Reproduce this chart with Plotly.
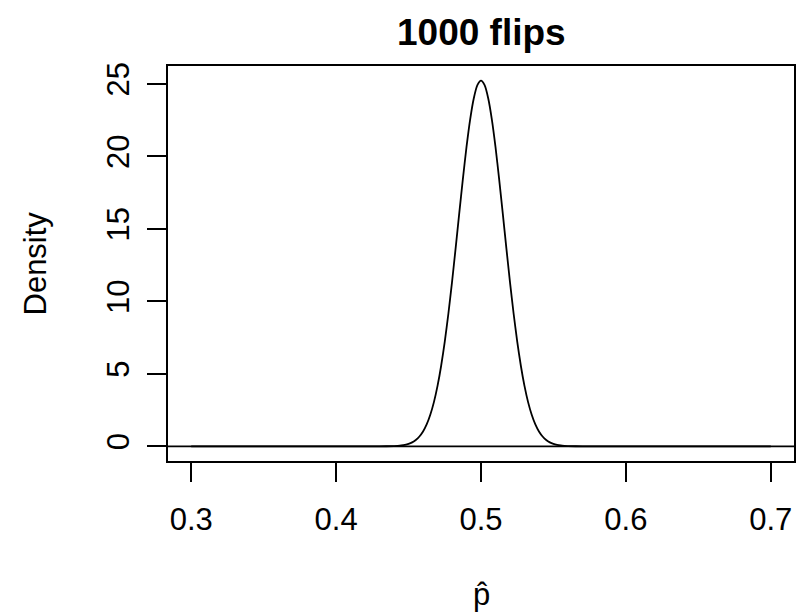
import plotly.graph_objects as go

# Density curve of p-hat for 1000 flips
p_hat = [0.30, 0.40, 0.43, 0.44, 0.4425, 0.445, 0.4475, 0.45, 0.4525, 0.455, 0.4575,
         0.46, 0.4625, 0.465, 0.4675, 0.47, 0.4725, 0.475, 0.4775, 0.48, 0.4825,
         0.485, 0.4875, 0.49, 0.4925, 0.495, 0.4975, 0.50,
         0.5025, 0.505, 0.5075, 0.51, 0.5125, 0.515, 0.5175, 0.52, 0.5225, 0.525,
         0.5275, 0.53, 0.5325, 0.535, 0.5375, 0.54, 0.5425, 0.545, 0.5475, 0.55,
         0.5525, 0.555, 0.5575, 0.56, 0.57, 0.60, 0.70]
density = [0.0, 0.0, 0.001, 0.019, 0.034, 0.059, 0.102, 0.170, 0.277, 0.440, 0.681,
           1.028, 1.515, 2.177, 3.052, 4.171, 5.561, 7.228, 9.166, 11.336, 13.675,
           16.087, 18.458, 20.656, 22.546, 23.999, 24.916, 25.23,
           24.916, 23.999, 22.546, 20.656, 18.458, 16.087, 13.675, 11.336, 9.166, 7.228,
           5.561, 4.171, 3.052, 2.177, 1.515, 1.028, 0.681, 0.440, 0.277, 0.170,
           0.102, 0.059, 0.034, 0.019, 0.001, 0.0, 0.0]

x_ticks = [0.3, 0.4, 0.5, 0.6, 0.7]
x_tick_labels = ["0.3", "0.4", "0.5", "0.6", "0.7"]
y_ticks = [0, 5, 10, 15, 20, 25]
y_tick_labels = ["0", "5", "10", "15", "20", "25"]

FONT = "Liberation Sans, Arial, Helvetica, sans-serif"

fig = go.Figure()
fig.add_trace(go.Scatter(x=p_hat, y=density, mode="lines",
                         line=dict(color="black", width=1.8, shape="spline", smoothing=0.6),
                         showlegend=False, hoverinfo="skip"))

fig.update_layout(
    width=808, height=613,
    margin=dict(l=168, r=14, t=66, b=152),
    paper_bgcolor="white", plot_bgcolor="white",
    font=dict(family=FONT, size=31, color="black"),
    xaxis=dict(range=[0.284, 0.716], tickvals=x_ticks, ticktext=x_tick_labels,
               showgrid=False, zeroline=False, showline=True, mirror=True,
               linecolor="black", linewidth=1.8, ticks="outside", ticklen=19,
               tickwidth=1.8, tickcolor="black", ticklabelstandoff=11),
    yaxis=dict(range=[-1.01, 26.24], tickvals=y_ticks, ticktext=y_tick_labels,
               showgrid=False, zeroline=False, showline=True, mirror=True,
               linecolor="black", linewidth=1.8, ticks="outside", ticklen=19,
               tickwidth=1.8, tickcolor="black", tickangle=-90, ticklabelstandoff=6),
    shapes=[dict(type="line", xref="paper", yref="y", x0=0, x1=1, y0=0, y1=0,
                 line=dict(color="black", width=1.8))],
    annotations=[
        dict(text="<b>1000 flips</b>", xref="paper", yref="paper", x=0.5, y=1,
             yshift=34, xanchor="center", yanchor="middle", showarrow=False,
             font=dict(size=37)),
        dict(text="Density", xref="paper", yref="paper", x=0, y=0.5, xshift=-133,
             textangle=-90, xanchor="center", yanchor="middle", showarrow=False,
             font=dict(size=31)),
        dict(text="p\u0302", xref="paper", yref="paper", x=0.5, y=0, yshift=-133,
             xanchor="center", yanchor="middle", showarrow=False,
             font=dict(size=31)),
    ],
)

fig.write_html("out.html")
